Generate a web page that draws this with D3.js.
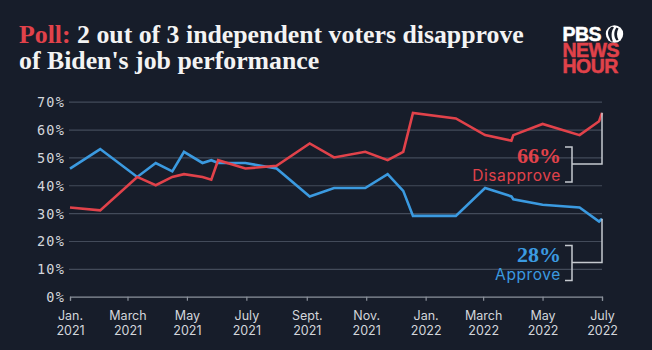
<!DOCTYPE html>
<html>
<head>
<meta charset="utf-8">
<script src="https://cdn.jsdelivr.net/npm/d3@7"></script>
<style>
  html, body { margin: 0; padding: 0; background: #171d2a; }
  svg { display: block; }
</style>
</head>
<body>
<svg id="chart" width="652" height="350"></svg>
<script>
// ---- data ----
const pollDates = [
  "2021-01-01","2021-02-01","2021-03-11","2021-03-30","2021-04-16","2021-04-28",
  "2021-05-17","2021-05-26","2021-06-02","2021-06-30","2021-08-01","2021-09-04",
  "2021-09-29","2021-10-31","2021-11-23","2021-12-09","2021-12-19","2022-02-01",
  "2022-03-03","2022-03-30","2022-04-01","2022-05-01","2022-06-08","2022-06-28",
  "2022-07-01"
];
const approve = [46,53,43,48,45,52,48,49,48,48,46,36,39,39,44,38,29,29,39,36,35,33,32,27,28];
const disapprove = [32,31,43,40,43,44,43,42,49,46,47,55,50,52,49,52,66,64,58,56,58,62,58,63,66];
const yTicks = [0,10,20,30,40,50,60,70];
const xTickDates = ["2021-01-01","2021-03-01","2021-05-01","2021-07-01","2021-09-01","2021-11-01","2022-01-01","2022-03-01","2022-05-01","2022-07-01"];
const xTickMonths = ["Jan.","March","May","July","Sept.","Nov.","Jan.","March","May","July"];
const xTickYears = ["2021","2021","2021","2021","2021","2021","2022","2022","2022","2022"];
const titleLead = "Poll:";
const titleRest = " 2 out of 3 independent voters disapprove";
const titleLine2 = "of Biden's job performance";
const seriesNames = ["Approve","Disapprove"];
const logoLines = ["PBS","NEWS","HOUR"];

// ---- styles ----
const BG = "#171d2a", RED = "#e1424a", BLUE = "#3b9ae0", GRID = "#434b5a", AXIS = "#8c929c", TXT = "#d3d6db";

const parse = d3.timeParse("%Y-%m-%d");
const dates = pollDates.map(parse);
const svg = d3.select("#chart");
svg.append("rect").attr("width",652).attr("height",350).attr("fill",BG);

const x = d3.scaleTime().domain([parse("2021-01-01"), parse("2022-07-01")]).range([70, 602]);
const y = d3.scaleLinear().domain([0,70]).range([296.7, 101.7]);

// gridlines + y labels
const yAxis = d3.axisLeft(y).tickValues(yTicks).tickSize(-532).tickFormat(d => d + "%");
const gy = svg.append("g").attr("transform","translate(70,0)").call(yAxis);
gy.select(".domain").remove();
gy.selectAll(".tick line").attr("stroke", GRID).attr("stroke-width",1.2).attr("x1",-1);
gy.selectAll(".tick text").attr("x",-5).attr("fill",TXT)
  .style("font-family","'DejaVu Sans Mono', monospace").style("font-size","13.5px")
  .style("letter-spacing","1.2px").attr("dy","0.36em");
gy.selectAll(".tick").filter(d => d === 0).select("line").remove();

// x axis
const xAxis = d3.axisBottom(x).tickValues(xTickDates.map(parse)).tickSize(4).tickFormat("");
const gx = svg.append("g").attr("transform","translate(0,296.7)").call(xAxis);
gx.select(".domain").attr("stroke",AXIS).attr("stroke-width",1.2);
gx.selectAll(".tick line").attr("stroke",AXIS).attr("stroke-width",1.2);
gx.selectAll(".tick").each(function(d,i){
  const t = d3.select(this).append("text").attr("fill",TXT).attr("text-anchor","middle")
    .style("font-family","Inter, sans-serif").style("font-size","12.5px");
  t.append("tspan").attr("x",0).attr("y",23).text(xTickMonths[i]);
  t.append("tspan").attr("x",0).attr("y",38.5).text(xTickYears[i]);
});

// lines
const line = vals => d3.line().x((d,i)=>x(dates[i])).y(d=>y(d))(vals);
svg.append("path").attr("d", line(approve)).attr("fill","none").attr("stroke",BLUE)
  .attr("stroke-width",2.6).attr("stroke-linejoin","miter");
svg.append("path").attr("d", line(disapprove)).attr("fill","none").attr("stroke",RED)
  .attr("stroke-width",2.6).attr("stroke-linejoin","miter");

// annotations
const last = dates.length - 1;
const xEnd = x(dates[last]);
function annot(val, name, color, top) {
  const g = svg.append("g");
  g.append("path")
    .attr("d", `M565,${top} H572 V${top+35} H565 M572,${top+17} H${xEnd} V${y(val)}`)
    .attr("fill","none").attr("stroke","#c5c9cf").attr("stroke-width",1.5);
  g.append("text").attr("x",561).attr("y",top+16).attr("text-anchor","end").attr("fill",color)
    .style("font-family","'Liberation Serif', serif").style("font-weight","bold").style("font-size","22px")
    .text(val + "%");
  g.append("text").attr("x",561).attr("y",top+34).attr("text-anchor","end").attr("fill",color)
    .style("font-family","Inter, sans-serif").style("font-size","15.5px").style("letter-spacing","0.6px")
    .text(name);
}
annot(disapprove[last], seriesNames[1], RED, 147);
annot(approve[last], seriesNames[0], BLUE, 245.5);

// title (one text element, two lines)
const tf = "'Liberation Serif', serif";
const title = svg.append("text").attr("y",43)
  .style("font-family",tf).style("font-weight","bold").style("font-size","25.8px").attr("fill","#f3f3f3");
title.append("tspan").attr("x",19).attr("fill",RED).text(titleLead);
title.append("tspan").text(titleRest);
title.append("tspan").attr("x",19).attr("dy",26).text(titleLine2);

// logo
const lf = "'Liberation Sans', Arial, sans-serif";
const logo = svg.append("g");
logo.append("circle").attr("cx",614.5).attr("cy",34).attr("r",8.7).attr("fill","#ffffff");
logo.append("path").attr("d","M612,26.5 C608,29 607,33 609,37 L611,41.5 L613,41.5 C611,37 611,31 614,27.5 Z").attr("fill",BG);
logo.append("path").attr("d","M616.5,27.5 C613.5,31 613.5,37 616.5,40.5 L618.5,40 C616.5,36 616.5,32 618.5,28.5 Z").attr("fill",BG);
const lt = logo.append("text").attr("y",40.7)
  .style("font-family",lf).style("font-weight","bold").style("font-size","19.5px").style("letter-spacing","-0.5px")
  .attr("stroke-width",0.5);
logoLines.forEach((s,i) => {
  const c = i === 0 ? "#ffffff" : RED;
  lt.append("tspan").attr("x",562.5).attr("dy", i === 0 ? 0 : 16).attr("fill",c).attr("stroke",c).text(s);
});
</script>
</body>
</html>
